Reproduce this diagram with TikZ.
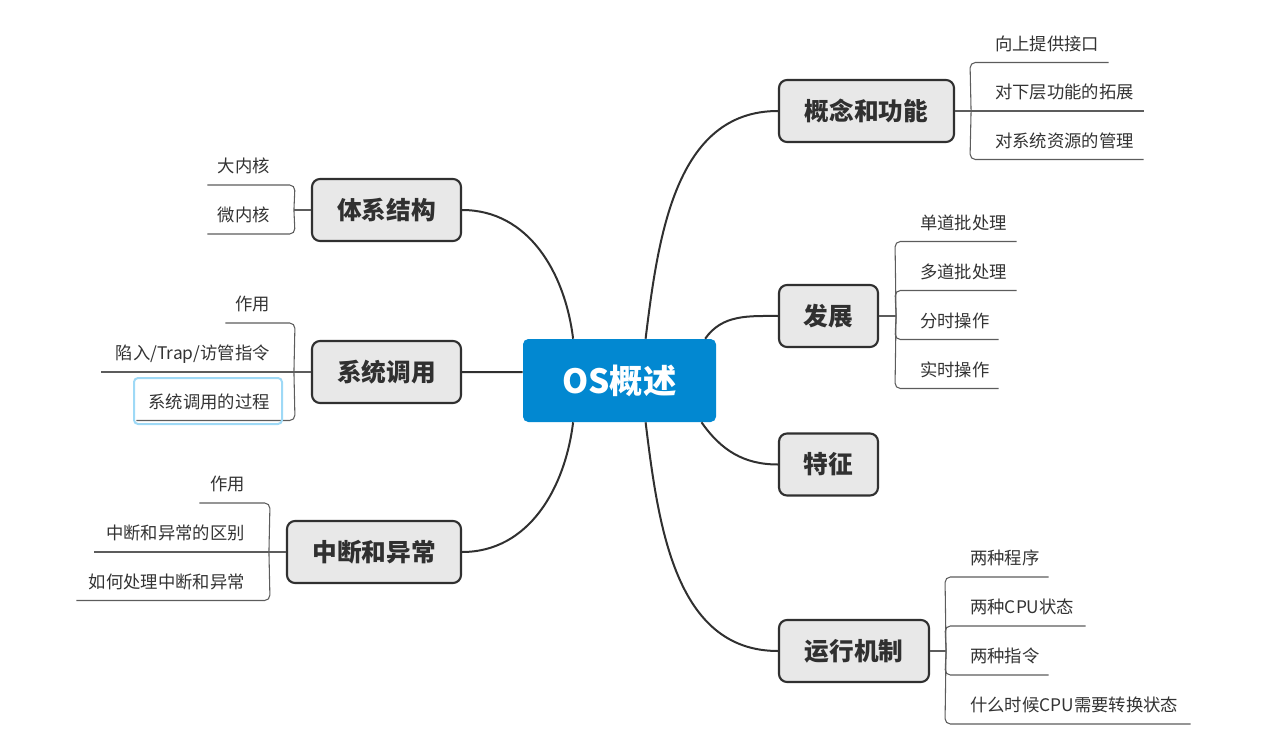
\documentclass[tikz,border=0pt]{standalone}
\usepackage{fontspec}
\setmainfont{Noto Sans CJK SC}
\definecolor{rootblue}{HTML}{0288D1}
\definecolor{topicfill}{HTML}{E8E8E8}
\definecolor{topicline}{HTML}{303030}
\definecolor{leafline}{HTML}{5C5C5C}
\definecolor{leaftext}{HTML}{333333}
\definecolor{selblue}{HTML}{9ED9F6}
\begin{document}
\begin{tikzpicture}[x=0.75pt,y=0.75pt,
  root/.style={fill=rootblue,rounded corners=4pt,minimum width=144.75pt,minimum height=62.25pt,text=white,font=\fontsize{25}{30}\selectfont\bfseries},
  topic/.style={draw=topicline,fill=topicfill,line width=1.6pt,rounded corners=6pt,minimum height=46.5pt,inner xsep=2pt,text=topicline,font=\fontsize{18.5}{22}\selectfont\bfseries},
  branch/.style={draw=topicline,line width=1.5pt},
  twig/.style={draw=leafline,line width=0.8pt,rounded corners=4pt},
  leafR/.style={anchor=south west,align=left,text width=#1,inner xsep=0pt,inner ysep=9pt,text depth=0pt,text=leaftext,font=\fontsize{13}{16}\selectfont,execute at begin node={\hspace*{18.75pt}}},
  leafL/.style={anchor=south east,align=right,text width=#1,inner xsep=0pt,inner ysep=9pt,text depth=0pt,text=leaftext,font=\fontsize{13}{16}\selectfont,execute at end node={\hspace*{18.75pt}}},
  selbox/.style={draw=selblue,line width=1.5pt,rounded corners=3pt}]
  \useasboundingbox (0,0) rectangle (1277,-752);

  % centre and main topics
  \node[root] (os) at (619.5,-380.5) {OS概述};
  \node[topic,minimum width=131.25pt] (gn) at (866.5,-111) {概念和功能};
  \node[topic,minimum width=74.25pt] (fz) at (828.5,-316) {发展};
  \node[topic,minimum width=74.25pt] (tz) at (828.5,-464.5) {特征};
  \node[topic,minimum width=112.5pt] (yx) at (854,-651) {运行机制};
  \node[topic,minimum width=111.75pt] (tx) at (386.5,-210) {体系结构};
  \node[topic,minimum width=111.75pt] (xt) at (386.5,-372) {系统调用};
  \node[topic,minimum width=130.5pt] (zd) at (374,-552) {中断和异常};

  \draw[branch] (os.58) to[out=83,in=180] (gn.west);
  \draw[branch] (os.26) to[out=55,in=180] (fz.west);
  \draw[branch] (os.-27) to[out=-55,in=180] (tz.west);
  \draw[branch] (os.-58) to[out=-83,in=180] (yx.west);
  \draw[branch] (os.138) to[out=97,in=0] (tx.east);
  \draw[branch] (os.175) -- (xt.east);
  \draw[branch] (os.-138) to[out=-97,in=0] (zd.east);

  % leaves, right side
  \coordinate (gnb) at ([xshift=12pt]gn.east);
  \node[leafR=103.5pt] (gn1) at (970,-62.5) {向上提供接口};
  \node[leafR=129.75pt] (gn2) at (970,-111) {对下层功能的拓展};
  \node[leafR=129.75pt] (gn3) at (970,-159.5) {对系统资源的管理};
  \draw[twig] (gnb) -- (gn1.south west) -- (gn1.south east);
  \draw[twig] (gn.east) -- (gn2.south east);
  \draw[twig] (gnb) -- (gn3.south west) -- (gn3.south east);

  \coordinate (fzb) at ([xshift=12.75pt]fz.east);
  \node[leafR=90.75pt] (fz1) at (895,-241.5) {单道批处理};
  \node[leafR=90.75pt] (fz2) at (895,-290.5) {多道批处理};
  \node[leafR=77.25pt] (fz3) at (895,-339.5) {分时操作};
  \node[leafR=77.25pt] (fz4) at (895,-388.5) {实时操作};
  \draw[twig] (fz.east) -- (fzb);
  \foreach \k in {1,2,3,4}
    \draw[twig] (fzb) -- (fz\k.south west) -- (fz\k.south east);

  \coordinate (yxb) at ([xshift=12pt]yx.east);
  \node[leafR=77.25pt] (yx1) at (945,-577) {两种程序};
  \node[leafR=105pt] (yx2) at (945,-626) {两种CPU状态};
  \node[leafR=77.25pt] (yx3) at (945,-675) {两种指令};
  \node[leafR=183.75pt] (yx4) at (945,-724) {什么时候CPU需要转换状态};
  \draw[twig] (yx.east) -- (yxb);
  \foreach \k in {1,2,3,4}
    \draw[twig] (yxb) -- (yx\k.south west) -- (yx\k.south east);

  % leaves, left side
  \coordinate (txb) at ([xshift=-12.75pt]tx.west);
  \node[leafL=65.25pt] (tx1) at (295,-185) {大内核};
  \node[leafL=65.25pt] (tx2) at (295,-234) {微内核};
  \draw[twig] (tx.west) -- (txb);
  \foreach \k in {1,2}
    \draw[twig] (txb) -- (tx\k.south east) -- (tx\k.south west);

  \coordinate (xtb) at ([xshift=-12.75pt]xt.west);
  \node[leafL=51.75pt] (xt1) at (295,-323) {作用};
  \node[leafL=144.75pt] (xt2) at (295,-372) {陷入/Trap/访管指令};
  \node[leafL=118.5pt] (xt3) at (295,-420.5) {系统调用的过程};
  \draw[twig] (xtb) -- (xt1.south east) -- (xt1.south west);
  \draw[twig] (xt.west) -- (xt2.south west);
  \draw[twig] (xtb) -- (xt3.south east) -- (xt3.south west);
  \draw[selbox] (134,-378) rectangle (282,-424);

  \coordinate (zdb) at ([xshift=-12.75pt]zd.west);
  \node[leafL=52.5pt] (zd1) at (270,-503) {作用};
  \node[leafL=131.25pt] (zd2) at (270,-552) {中断和异常的区别};
  \node[leafL=144.75pt] (zd3) at (270,-600.5) {如何处理中断和异常};
  \draw[twig] (zdb) -- (zd1.south east) -- (zd1.south west);
  \draw[twig] (zd.west) -- (zd2.south west);
  \draw[twig] (zdb) -- (zd3.south east) -- (zd3.south west);
\end{tikzpicture}
\end{document}
